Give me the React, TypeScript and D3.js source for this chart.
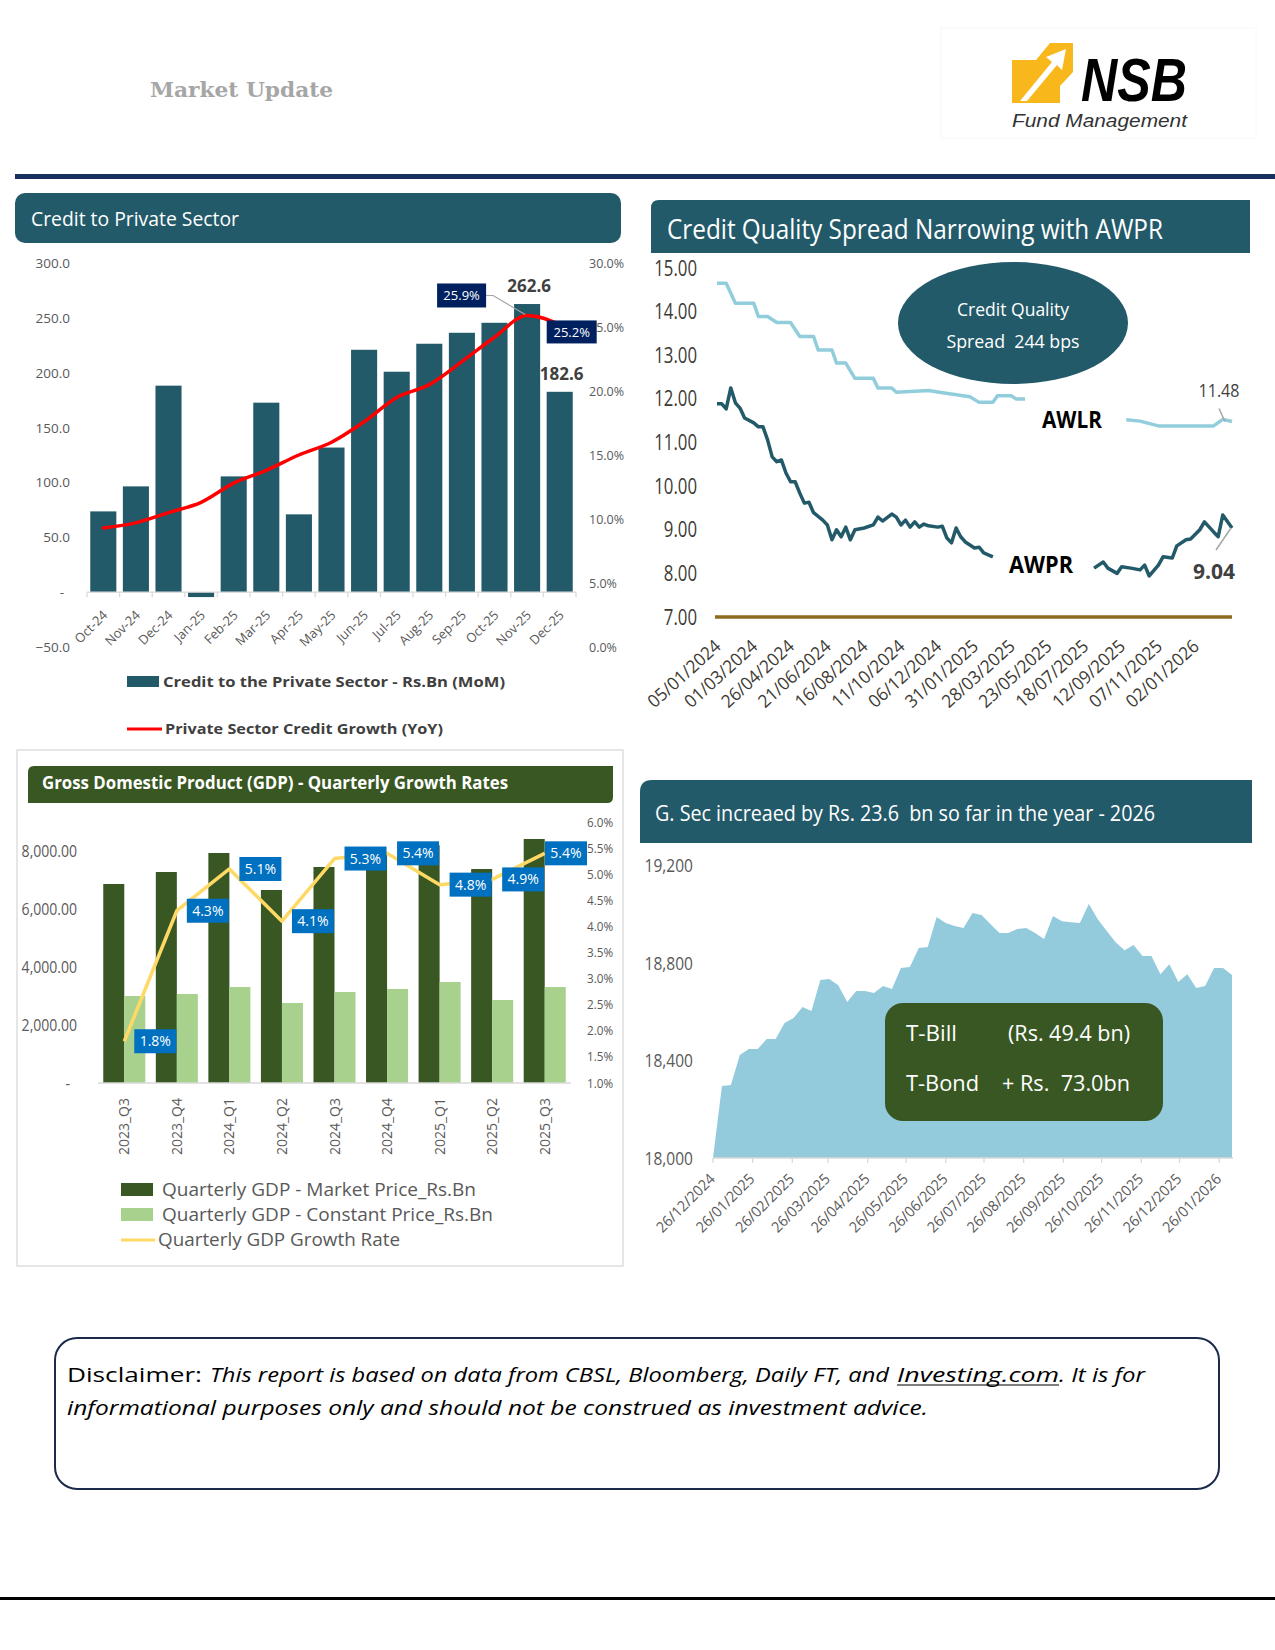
import React from "react";
import * as d3 from "d3";

// ---------------- data ----------------
const creditMonths = ["Oct-24", "Nov-24", "Dec-24", "Jan-25", "Feb-25", "Mar-25", "Apr-25", "May-25", "Jun-25", "Jul-25", "Aug-25", "Sep-25", "Oct-25", "Nov-25", "Dec-25"];
const creditMoM = [73.6, 96.4, 188.2, -4.5, 105.5, 172.7, 70.9, 131.8, 220.9, 200.9, 226.4, 236.4, 245.5, 262.6, 182.6];
const creditYoY = [9.3, 9.7, 10.5, 11.3, 12.8, 13.8, 15.0, 16.0, 17.6, 19.5, 20.5, 22.3, 24.2, 25.9, 25.2];
const creditLeftTicks = [-50, 0, 50, 100, 150, 200, 250, 300];
const creditRightTicks = [0, 5, 10, 15, 20, 25, 30];

// weekly rates, week index counted from 05/01/2024 (null = hidden behind label)
const rateStart = [2024, 0, 5];
const awlrPoints: [number, number | null][] = [
  [0, 14.65], [2, 14.65], [4, 14.19], [8, 14.19], [9, 13.89], [11, 13.89], [13, 13.75], [16, 13.75],
  [18, 13.43], [21, 13.43], [22, 13.12], [25, 13.12], [26, 12.82], [28, 12.82], [30, 12.47], [34, 12.47],
  [35, 12.25], [38, 12.25], [39, 12.15], [46, 12.19], [48, 12.16], [55, 12.05], [57, 11.92], [60, 11.92],
  [61, 12.07], [64, 12.07], [65, 12.0], [67, 12.0], [68, null], [89, 11.52], [92, 11.49], [96, 11.38],
  [108, 11.38], [110, 11.53], [112, 11.48],
];
const awprPoints: [number, number | null][] = [
  [0, 11.89], [1, 11.89], [2, 11.77], [3, 12.25], [4, 11.91], [5, 11.79], [6, 11.56], [8, 11.45],
  [9, 11.36], [10, 11.36], [11, 11.06], [12, 10.67], [13, 10.56], [14, 10.6], [15, 10.3], [16, 10.1],
  [17, 10.1], [18, 9.84], [19, 9.61], [20, 9.63], [21, 9.39], [23, 9.22], [24, 9.11], [25, 8.77],
  [26, 9.0], [27, 8.84], [28, 9.06], [29, 8.77], [30, 9.0], [32, 9.04], [34, 9.11], [35, 9.29],
  [36, 9.2], [38, 9.36], [39, 9.29], [40, 9.11], [41, 9.22], [42, 9.06], [43, 9.18], [44, 9.06],
  [45, 9.13], [46, 9.09], [48, 9.06], [49, 9.08], [50, 8.81], [51, 8.7], [52, 9.04], [53, 8.84],
  [54, 8.72], [55, 8.65], [56, 8.58], [57, 8.6], [58, 8.47], [60, 8.38], [61, null], [82, 8.12],
  [84, 8.26], [85, 8.12], [87, 8.0], [88, 8.15], [90, 8.12], [92, 8.08], [93, 8.19], [94, 7.94],
  [96, 8.19], [97, 8.38], [99, 8.35], [100, 8.63], [102, 8.77], [103, 8.79], [105, 9.0], [106, 9.18],
  [108, 8.95], [109, 8.84], [110, 9.34], [112, 9.04],
];
const rateTicks = [7, 8, 9, 10, 11, 12, 13, 14, 15];

const gdpQuarters = ["2023_Q3", "2023_Q4", "2024_Q1", "2024_Q2", "2024_Q3", "2024_Q4", "2025_Q1", "2025_Q2", "2025_Q3"];
const gdpMarket = [6862, 7276, 7931, 6655, 7448, 7900, 8200, 7379, 8414];
const gdpConstant = [3000, 3069, 3310, 2759, 3138, 3241, 3483, 2862, 3310];
const gdpGrowth = [1.8, 4.3, 5.1, 4.1, 5.3, 5.4, 4.8, 4.9, 5.4];
const gdpLeftTicks = [0, 2000, 4000, 6000, 8000];
const gdpRightTicks = [1, 1.5, 2, 2.5, 3, 3.5, 4, 4.5, 5, 5.5, 6];

// weekly G.Sec outstanding (Rs.Bn) from 26/12/2024
const gsecStart = [2024, 11, 26];
const gsecWeekly = [
  18000, 18295, 18299, 18422, 18446, 18446, 18487, 18487, 18553, 18573, 18618, 18602, 18729, 18733, 18708,
  18639, 18684, 18684, 18676, 18704, 18692, 18778, 18782, 18860, 18864, 18987, 18962, 18950, 18942, 19003,
  18995, 18958, 18921, 18921, 18938, 18942, 18921, 18897, 18991, 18970, 18966, 18962, 19040, 18978, 18930,
  18884, 18851, 18872, 18827, 18827, 18753, 18794, 18721, 18753, 18696, 18704, 18778, 18778, 18749,
];
const gsecTicks = [18000, 18400, 18800, 19200];

// ---------------- style ----------------
const FONT = "'Open Sans', 'Noto Sans', 'DejaVu Sans', sans-serif";
const TEAL = "#235a6a";
const GREEN = "#385723";
const LIGHTGREEN = "#a9d18e";
const GOLD = "#ffd966";
const AXIS = "#595959";

const T = ({ len, children, ...rest }: any) => (
  <text {...rest} textLength={len} lengthAdjust={len ? "spacingAndGlyphs" : undefined} style={{ whiteSpace: "pre" }}>
    {children}
  </text>
);

// squeezed text, for the horizontally compressed chart images
const Sq = ({ x, y, sx = 1, rot, children, ...rest }: any) => (
  <text transform={`translate(${x},${y})${rot ? ` rotate(${rot})` : ""} scale(${sx},1)`} {...rest}>
    {children}
  </text>
);

function Header() {
  return (
    <g>
      <T x={150} y={97} fontFamily="'DejaVu Serif', serif" fontWeight="bold" fontSize={21} fill="#a6a6a6" len={183}>
        Market Update
      </T>
      <rect x={941} y={28} width={315} height={110} fill="#fff" stroke="#f8f8f8" />
      <polygon points="1012,103 1012,60 1036,60 1050,43 1073,43 1073,72 1060,86 1060,103" fill="#f8b81c" />
      <polygon points="1020,101 1052,62 1046,57 1066,49 1062,70 1057,65 1027,101" fill="#fff" />
      <T x={1081} y={101} fontFamily="'Liberation Sans', Arial, sans-serif" fontWeight="bold" fontStyle="italic" fontSize={62} fill="#000" len={106}>
        NSB
      </T>
      <T x={1012} y={127} fontFamily="'Liberation Sans', Arial, sans-serif" fontStyle="italic" fontSize={18} fill="#333" len={175}>
        Fund Management
      </T>
      <rect x={15} y={174} width={1260} height={5} fill="#17305e" />
    </g>
  );
}

function CreditChart() {
  const x = d3.scaleBand<string>().domain(creditMonths).range([87, 576]).paddingInner(0.2).paddingOuter(0.1);
  const yL = d3.scaleLinear().domain([-50, 300]).range([647, 263]);
  const yR = d3.scaleLinear().domain([0, 30]).range([647, 263]);
  const cx = (i: number) => (x(creditMonths[i]) ?? 0) + x.bandwidth() / 2;
  const y0 = yL(0);
  const path = d3.line<number>().x((_, i) => cx(i)).y((v) => yR(v)).curve(d3.curveMonotoneX)(creditYoY) ?? "";
  const bounds = d3.range(creditMonths.length + 1).map((i) => 87 + i * x.step());
  const iNov = 13;
  const iDec = 14;
  const pNov = [cx(iNov), yR(creditYoY[iNov])];
  const pDec = [cx(iDec), yR(creditYoY[iDec])];
  return (
    <g>
      <rect x={15} y={193} width={606} height={50} rx={10} fill={TEAL} />
      <T x={31} y={226} fill="#fff" fontSize={20} len={208}>Credit to Private Sector</T>
      {creditLeftTicks.map((v) => (
        <text key={v} x={v === 0 ? 64 : 70} y={yL(v) + 5} textAnchor="end" fontSize={13.5} fill={AXIS}>
          {v === 0 ? "-" : d3.format(".1f")(v)}
        </text>
      ))}
      {creditRightTicks.map((v) => (
        <text key={v} x={589} y={yR(v) + 4.5} fontSize={12.5} fill={AXIS}>{v.toFixed(1)}%</text>
      ))}
      {creditMoM.map((v, i) => (
        <rect key={i} x={x(creditMonths[i])} y={Math.min(yL(v), y0)} width={x.bandwidth()} height={Math.abs(yL(v) - y0)} fill={TEAL} />
      ))}
      <line x1={87} x2={576} y1={y0} y2={y0} stroke="#d9d9d9" strokeWidth={1.3} />
      {bounds.map((b, i) => (
        <line key={i} x1={b} x2={b} y1={y0} y2={y0 + 5} stroke="#d9d9d9" strokeWidth={1.3} />
      ))}
      {creditMonths.map((m, i) => (
        <Sq key={m} x={cx(i) + 5} y={616} rot={-45} textAnchor="end" fontSize={13} fill={AXIS}>{m}</Sq>
      ))}
      <path d={path} fill="none" stroke="#ff0000" strokeWidth={3.5} strokeLinecap="round" />
      <text x={cx(iNov) + 2} y={yL(creditMoM[iNov]) - 12} textAnchor="middle" fontSize={17} fontWeight="bold" fill="#404040">
        {creditMoM[iNov].toFixed(1)}
      </text>
      <text x={cx(iDec) + 2} y={yL(creditMoM[iDec]) - 12} textAnchor="middle" fontSize={17} fontWeight="bold" fill="#404040">
        {creditMoM[iDec].toFixed(1)}
      </text>
      <polyline points={`${pNov[0] - 41},${pNov[1] - 20} ${pNov[0] - 34},${pNov[1] - 20} ${pNov[0] - 2},${pNov[1] - 1}`} fill="none" stroke="#a6a6a6" strokeWidth={1.2} />
      <rect x={pNov[0] - 90} y={pNov[1] - 32} width={49} height={24} fill="#002060" />
      <text x={pNov[0] - 65.5} y={pNov[1] - 15} textAnchor="middle" fontSize={13} fill="#fff">{creditYoY[iNov].toFixed(1)}%</text>
      <rect x={pDec[0] - 13} y={pDec[1] - 4} width={50} height={23} fill="#002060" />
      <text x={pDec[0] + 12} y={pDec[1] + 12.5} textAnchor="middle" fontSize={13} fill="#fff">{creditYoY[iDec].toFixed(1)}%</text>
      <rect x={127} y={676} width={32} height={11} fill={TEAL} />
      <T x={163} y={687} fontSize={15} fontWeight="bold" fill="#404040" len={342}>Credit to the Private Sector - Rs.Bn (MoM)</T>
      <line x1={127} x2={162} y1={729} y2={729} stroke="#ff0000" strokeWidth={3} />
      <T x={165} y={734} fontSize={15} fontWeight="bold" fill="#404040" len={278}>Private Sector Credit Growth (YoY)</T>
    </g>
  );
}

function SpreadChart() {
  const start = new Date(rateStart[0], rateStart[1], rateStart[2]);
  const wk = (w: number) => d3.timeDay.offset(start, w * 7);
  const x = d3.scaleTime().domain([wk(0), wk(112)]).range([717, 1232]);
  const y = d3.scaleLinear().domain([7, 15]).range([617, 268]);
  const line = d3
    .line<[number, number | null]>()
    .defined((d) => d[1] !== null)
    .x((d) => x(wk(d[0])))
    .y((d) => y(d[1] as number));
  const ticks = d3.range(0, 105, 8).map(wk);
  const fmt = d3.timeFormat("%d/%m/%Y");
  const lastLR = awlrPoints[awlrPoints.length - 1];
  const lastPR = awprPoints[awprPoints.length - 1];
  const pLR = [x(wk(lastLR[0])), y(lastLR[1] as number)];
  const pPR = [x(wk(lastPR[0])), y(lastPR[1] as number)];
  return (
    <g>
      <path d="M651,253 V208 Q651,200 659,200 H1250 V253 Z" fill={TEAL} />
      <T x={667} y={239} fill="#fff" fontSize={28} len={496}>Credit Quality Spread Narrowing with AWPR</T>
      {rateTicks.map((v) => (
        <Sq key={v} x={697} y={y(v) + 7.5} sx={0.8} textAnchor="end" fontSize={21} fill="#3d3a33">{v.toFixed(2)}</Sq>
      ))}
      <line x1={715} x2={1232} y1={y(7)} y2={y(7)} stroke="#8c6b1e" strokeWidth={3.5} />
      {ticks.map((d, i) => (
        <Sq key={i} x={x(d) + 5} y={648} rot={-42} sx={0.95} textAnchor="end" fontSize={18} fill="#3d3a33">{fmt(d)}</Sq>
      ))}
      <path d={line(awlrPoints) ?? ""} fill="none" stroke="#92cddc" strokeWidth={3.5} strokeLinejoin="round" />
      <path d={line(awprPoints) ?? ""} fill="none" stroke={TEAL} strokeWidth={3.5} strokeLinejoin="round" />
      <ellipse cx={1013} cy={323} rx={115} ry={61} fill={TEAL} />
      <T x={1013} y={316} textAnchor="middle" fontSize={19} fill="#fff" len={112}>Credit Quality</T>
      <T x={1013} y={348} textAnchor="middle" fontSize={19} fill="#fff" len={133}>Spread  244 bps</T>
      <T x={1042} y={428} fontSize={23} fontWeight="bold" fill="#000" len={60}>AWLR</T>
      <T x={1009} y={573} fontSize={23} fontWeight="bold" fill="#000" len={64}>AWPR</T>
      <line x1={pLR[0] - 13} y1={pLR[1] - 13} x2={pLR[0] - 7} y2={pLR[1]} stroke="#a6a6a6" strokeWidth={1.5} />
      <T x={1219} y={397} textAnchor="middle" fontSize={19} fill="#404040" len={41}>{(lastLR[1] as number).toFixed(2)}</T>
      <line x1={pPR[0] - 16} y1={pPR[1] + 22} x2={pPR[0] - 1} y2={pPR[1]} stroke="#a6a6a6" strokeWidth={1.5} />
      <T x={1214} y={579} textAnchor="middle" fontSize={21} fontWeight="bold" fill="#404040" len={42}>{(lastPR[1] as number).toFixed(2)}</T>
    </g>
  );
}

function GdpChart() {
  const x = d3.scaleBand<string>().domain(gdpQuarters).range([98, 571]).paddingInner(0.2).paddingOuter(0.1);
  const half = x.bandwidth() / 2;
  const yL = d3.scaleLinear().domain([0, 9000]).range([1083, 822]);
  const yR = d3.scaleLinear().domain([1, 6]).range([1083, 822]);
  const cx = (i: number) => (x(gdpQuarters[i]) ?? 0) + half;
  const pts: [number, number][] = gdpGrowth.map((v, i) => [cx(i), yR(v)]);
  const path = d3.line()(pts) ?? "";
  return (
    <g>
      <rect x={17} y={750} width={606} height={516} fill="none" stroke="#d9d9d9" strokeWidth={1.3} />
      <path d="M28,803 V772 Q28,766 34,766 H613 V797 Q613,803 607,803 Z" fill={GREEN} />
      <T x={42} y={789} fontSize={17} fontWeight="bold" fill="#fff" len={466}>Gross Domestic Product (GDP) - Quarterly Growth Rates</T>
      {gdpLeftTicks.map((v) => (
        <Sq key={v} x={v === 0 ? 70 : 77} y={yL(v) + 6} sx={0.85} textAnchor="end" fontSize={16.5} fill={AXIS}>
          {v === 0 ? "-" : d3.format(",.2f")(v)}
        </Sq>
      ))}
      {gdpRightTicks.map((v) => (
        <Sq key={v} x={587} y={yR(v) + 4.5} sx={0.9} fontSize={13} fill={AXIS}>{v.toFixed(1)}%</Sq>
      ))}
      {gdpMarket.map((v, i) => (
        <rect key={"m" + i} x={x(gdpQuarters[i])} y={yL(v)} width={half} height={yL(0) - yL(v)} fill={GREEN} />
      ))}
      {gdpConstant.map((v, i) => (
        <rect key={"c" + i} x={(x(gdpQuarters[i]) ?? 0) + half} y={yL(v)} width={half} height={yL(0) - yL(v)} fill={LIGHTGREEN} />
      ))}
      <line x1={98} x2={571} y1={yL(0)} y2={yL(0)} stroke="#d9d9d9" strokeWidth={1.3} />
      {gdpQuarters.map((q, i) => (
        <Sq key={q} x={cx(i) + 5} y={1098} rot={-90} textAnchor="end" fontSize={14} fill={AXIS}>{q}</Sq>
      ))}
      <path d={path} fill="none" stroke={GOLD} strokeWidth={3.5} strokeLinejoin="round" />
      {pts.map(([px, py], i) => {
        const bx = Math.min(px + 10, 587 - 42);
        return (
          <g key={i}>
            <rect x={bx} y={py - 12} width={42} height={24} fill="#0070c0" />
            <text x={bx + 21} y={py + 5} textAnchor="middle" fontSize={14} fill="#fff">{gdpGrowth[i].toFixed(1)}%</text>
          </g>
        );
      })}
      <rect x={121} y={1183} width={32} height={13} fill={GREEN} />
      <T x={162} y={1196} fontSize={19} fill={AXIS} len={314}>Quarterly GDP - Market Price_Rs.Bn</T>
      <rect x={121} y={1208} width={32} height={13} fill={LIGHTGREEN} />
      <T x={162} y={1221} fontSize={19} fill={AXIS} len={331}>Quarterly GDP - Constant Price_Rs.Bn</T>
      <line x1={121} x2={155} y1={1240} y2={1240} stroke={GOLD} strokeWidth={3} />
      <T x={158} y={1246} fontSize={19} fill={AXIS} len={242}>Quarterly GDP Growth Rate</T>
    </g>
  );
}

function GsecChart() {
  const start = new Date(gsecStart[0], gsecStart[1], gsecStart[2]);
  const dates = gsecWeekly.map((_, i) => d3.timeDay.offset(start, 7 * i));
  const x = d3.scaleTime().domain([dates[0], dates[dates.length - 1]]).range([713, 1232]);
  const y = d3.scaleLinear().domain([18000, 19200]).range([1158, 865]);
  const area = d3.area<number>().x((_, i) => x(dates[i])).y0(y(18000)).y1((v) => y(v));
  const ticks = d3.range(0, 14).map((i) => new Date(gsecStart[0], gsecStart[1] + i, gsecStart[2]));
  const fmt = d3.timeFormat("%d/%m/%Y");
  return (
    <g>
      <path d="M640,843 V792 Q640,780 652,780 H1252 V843 Z" fill={TEAL} />
      <T x={655} y={821} fontSize={22} fill="#fff" len={500}>G. Sec increaed by Rs. 23.6  bn so far in the year - 2026</T>
      {gsecTicks.map((v) => (
        <Sq key={v} x={693} y={y(v) + 7} sx={0.84} textAnchor="end" fontSize={18.5} fill={AXIS}>{d3.format(",")(v)}</Sq>
      ))}
      <path d={area(gsecWeekly) ?? ""} fill="#93cbdc" />
      <line x1={713} x2={1233} y1={y(18000)} y2={y(18000)} stroke="#d9d9d9" strokeWidth={1.5} />
      {ticks.map((d, i) => (
        <g key={i}>
          <line x1={x(d)} x2={x(d)} y1={y(18000)} y2={y(18000) + 5} stroke="#d9d9d9" strokeWidth={1.3} />
          <Sq x={x(d) + 3} y={1180} rot={-45} sx={0.95} textAnchor="end" fontSize={15} fill={AXIS}>{fmt(d)}</Sq>
        </g>
      ))}
      <rect x={885} y={1003} width={278} height={118} rx={18} fill={GREEN} />
      <T x={906} y={1041} fontSize={21} fill="#fff" len={51}>T-Bill</T>
      <T x={1008} y={1041} fontSize={21} fill="#fff" len={122}>(Rs. 49.4 bn)</T>
      <T x={906} y={1091} fontSize={21} fill="#fff" len={73}>T-Bond</T>
      <T x={1002} y={1091} fontSize={21} fill="#fff" len={128}>+ Rs.  73.0bn</T>
    </g>
  );
}

function Disclaimer() {
  const b1 = 1382;
  const b2 = 1415;
  return (
    <g>
      <rect x={55} y={1338} width={1164} height={151} rx={22} fill="#fff" stroke="#1a2a4a" strokeWidth={2} />
      <T x={67} y={b1} fontSize={20} fill="#000" len={135}>Disclaimer:</T>
      <T x={210} y={b1} fontSize={20} fontStyle="italic" fill="#000" len={679}>This report is based on data from CBSL, Bloomberg, Daily FT, and</T>
      <T x={897} y={b1} fontSize={20} fontStyle="italic" fill="#000" len={162}>Investing.com</T>
      <T x={1059} y={b1} fontSize={20} fontStyle="italic" fill="#000" len={86}>. It is for</T>
      <T x={67} y={b2} fontSize={20} fontStyle="italic" fill="#000" len={861}>informational purposes only and should not be construed as investment advice.</T>
      <line x1={897} x2={1059} y1={b1 + 3} y2={b1 + 3} stroke="#000" strokeWidth={1.2} />
    </g>
  );
}

export default function App() {
  return (
    <div style={{ position: "absolute", left: 0, top: 0 }}>
      <svg width={1275} height={1650} viewBox="0 0 1275 1650" style={{ display: "block", background: "#fff" }} fontFamily={FONT}>
        <rect width={1275} height={1650} fill="#fff" />
        <Header />
        <CreditChart />
        <SpreadChart />
        <GdpChart />
        <GsecChart />
        <Disclaimer />
        <rect x={0} y={1597} width={1275} height={3} fill="#000" />
      </svg>
    </div>
  );
}
